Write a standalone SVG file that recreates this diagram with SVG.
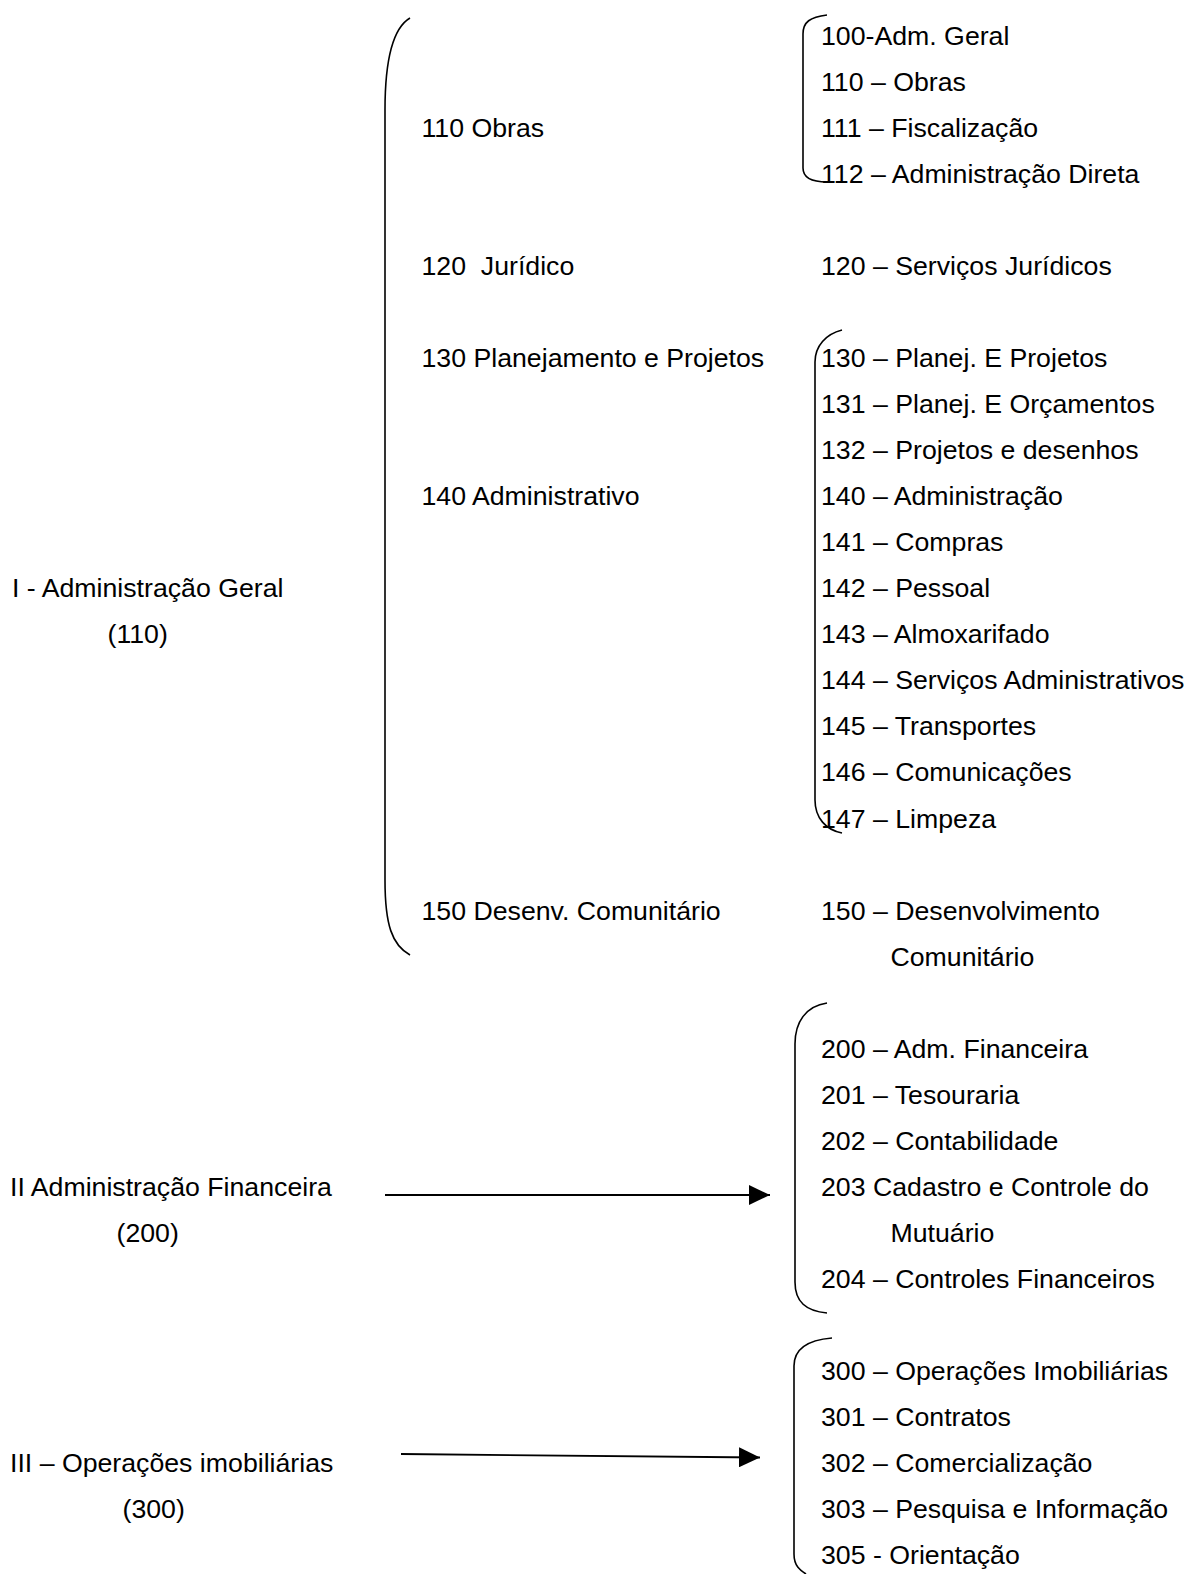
<svg xmlns="http://www.w3.org/2000/svg" width="1190" height="1574" viewBox="0 0 1190 1574">
<style>
text{font-family:"Liberation Sans",Arial,sans-serif;font-size:26.7px;fill:#000}
.br{fill:none;stroke:#000;stroke-width:1.6}
.ar{fill:none;stroke:#000;stroke-width:1.8}
</style>
<defs>
<marker id="ah" viewBox="0 0 21 20" refX="21" refY="10" markerWidth="21" markerHeight="20" markerUnits="userSpaceOnUse" orient="auto">
<path d="M0,0 L21,10 L0,20 Z" fill="#000"/>
</marker>
</defs>
<rect width="1190" height="1574" fill="#fff"/>
<g id="brackets">
<path class="br" d="M410,18 C393,28 385,60 385,110 L385,880 C385,925 392,945 410,955"/>
<path class="br" d="M827,15 C810,17 803,22 803,34 L803,168 C803,178 812,182 827,182"/>
<path class="br" d="M842,330 C826,334 815,346 815,362 L815,800 C815,818 826,830 842,833"/>
<path class="br" d="M827,1003 C806,1006 795,1022 795,1044 L795,1282 C795,1302 806,1311 827,1313"/>
<path class="br" d="M832,1338 C808,1340 794,1348 794,1366 L794,1554 C794,1566 800,1570 806,1574"/>
</g>
<g id="connectors">
<line class="ar" x1="385" y1="1195" x2="770" y2="1195" marker-end="url(#ah)"/>
<line class="ar" x1="401" y1="1454" x2="760" y2="1457.5" marker-end="url(#ah)"/>
</g>
<g id="node-I"><text x="12" y="597">I - Administração Geral</text><text x="107.5" y="643">(110)</text></g>
<g id="node-II"><text x="10" y="1196">II Administração Financeira</text><text x="116.5" y="1242">(200)</text></g>
<g id="node-III"><text x="10" y="1472">III – Operações imobiliárias</text><text x="122.5" y="1518">(300)</text></g>
<g id="node-110"><text x="421.5" y="136.7">110 Obras</text></g>
<g id="node-120"><text x="421.5" y="275" xml:space="preserve">120  Jurídico</text></g>
<g id="node-130"><text x="421.5" y="367">130 Planejamento e Projetos</text></g>
<g id="node-140"><text x="421.5" y="505">140 Administrativo</text></g>
<g id="node-150"><text x="421.5" y="919.6">150 Desenv. Comunitário</text></g>
<g id="list-100">
<text x="821" y="44.6">100-Adm. Geral</text>
<text x="821" y="90.7">110 – Obras</text>
<text x="821" y="136.7">111 – Fiscalização</text>
<text x="821" y="182.8">112 – Administração Direta</text>
</g>
<g id="list-120"><text x="821" y="275">120 – Serviços Jurídicos</text></g>
<g id="list-130">
<text x="821" y="367">130 – Planej. E Projetos</text>
<text x="821" y="413">131 – Planej. E Orçamentos</text>
<text x="821" y="459">132 – Projetos e desenhos</text>
<text x="821" y="505">140 – Administração</text>
<text x="821" y="551.2">141 – Compras</text>
<text x="821" y="597.2">142 – Pessoal</text>
<text x="821" y="643.3">143 – Almoxarifado</text>
<text x="821" y="689.3">144 – Serviços Administrativos</text>
<text x="821" y="735.4">145 – Transportes</text>
<text x="821" y="781.4">146 – Comunicações</text>
<text x="821" y="827.5">147 – Limpeza</text>
</g>
<g id="list-150">
<text x="821" y="919.6">150 – Desenvolvimento</text>
<text x="890.5" y="965.6">Comunitário</text>
</g>
<g id="list-200">
<text x="821" y="1057.7">200 – Adm. Financeira</text>
<text x="821" y="1103.8">201 – Tesouraria</text>
<text x="821" y="1149.8">202 – Contabilidade</text>
<text x="821" y="1195.9">203 Cadastro e Controle do</text>
<text x="890.5" y="1241.9">Mutuário</text>
<text x="821" y="1288">204 – Controles Financeiros</text>
</g>
<g id="list-300">
<text x="821" y="1380">300 – Operações Imobiliárias</text>
<text x="821" y="1426.1">301 – Contratos</text>
<text x="821" y="1472.2">302 – Comercialização</text>
<text x="821" y="1518.2">303 – Pesquisa e Informação</text>
<text x="821" y="1564.3">305 - Orientação</text>
</g>
</svg>
